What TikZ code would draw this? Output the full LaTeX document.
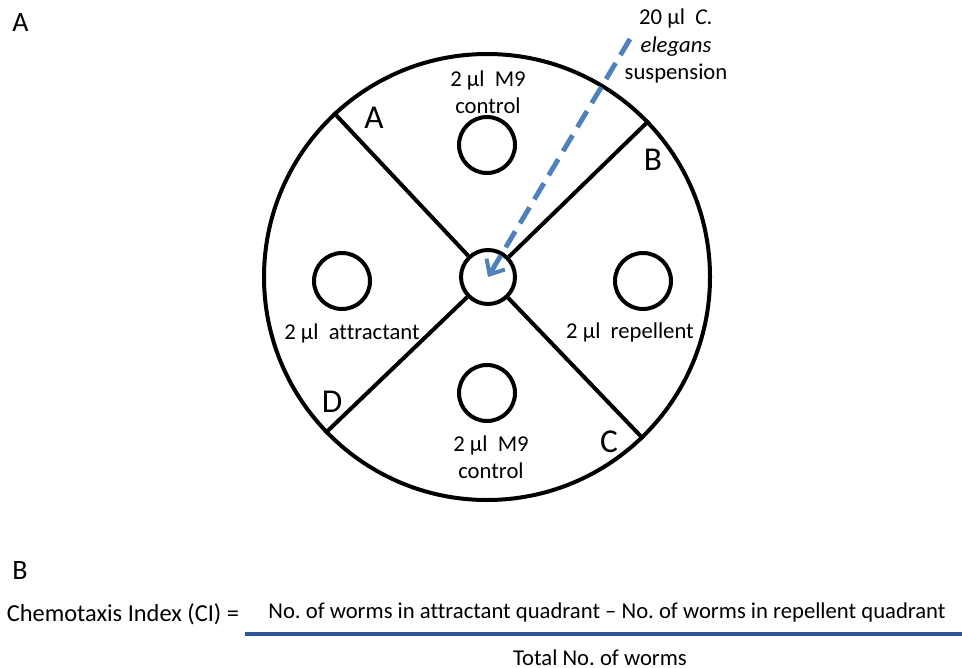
\documentclass[tikz,border=0pt]{standalone}
\usepackage{fontspec}
\setmainfont{Carlito}[Ligatures={NoCommon}]
\usetikzlibrary{arrows.meta}
\definecolor{arrowblue}{HTML}{4F81BD}
\definecolor{fracblue}{HTML}{2F5496}
\frenchspacing
\begin{document}
\begin{tikzpicture}[x=0.75pt,y=-0.75pt,
  thickline/.style={line width=3pt},
  well/.style={circle,draw,line width=3pt,minimum size=42pt,inner sep=0pt},
  lbl/.style={font=\fontsize{17}{20.5}\selectfont,align=center,inner sep=0pt},
  quad/.style={font=\fontsize{25}{28}\selectfont,inner sep=0pt},
  panel/.style={font=\fontsize{21}{24}\selectfont,inner sep=0pt},
  eqn/.style={font=\fontsize{17}{20}\selectfont,inner sep=0pt}]
\useasboundingbox (0,0) rectangle (962,667);
% plate and wells
\node[circle,draw,line width=3pt,minimum size=334.5pt,inner sep=0pt] (plate) at (487,277) {};
\node[circle,draw,line width=3pt,minimum size=40.5pt,inner sep=0pt] (ctr) at (488,277) {};
\node[well] (wtop) at (487,145) {};
\node[well] (wleft) at (342,281) {};
\node[well] (wright) at (643,281) {};
\node[well] (wbot) at (487,393) {};
% quadrant lines
\draw[thickline] (ctr.133) -- (plate.133);
\draw[thickline] (ctr.44) -- (plate.44);
\draw[thickline] (ctr.-46) -- (plate.-46);
\draw[thickline] (ctr.-136.5) -- (plate.-136.5);
% labels
\node[quad] (qa) at (374,118) {A};
\node[quad] (qb) at (653,160) {B};
\node[quad] (qc) at (609,442) {C};
\node[quad] (qd) at (332,402) {D};
\node[lbl] (ltop) at (488,92) {2 µl\ \ M9\\control};
\node[lbl] (lbot) at (491,457) {2 µl\ \ M9\\control};
\node[lbl] (lleft) at (352,333) {2 µl\ \ attractant};
\node[lbl] (lright) at (630,332) {2 µl\ \ repellent};
\node[lbl] (lsusp) at (676,46) {20 µl\ \ \textit{C.}\\\textit{elegans}\\suspension};
% arrow
\coordinate (astart) at (630,39);
\draw[arrowblue,line width=3.7pt,dash pattern=on 14pt off 7pt,
  -{Straight Barb[length=9pt,width=16pt,line width=3pt]}] (astart) -- (ctr.center);
% panel labels
\node[panel] (pa) at (20.5,23) {A};
\node[panel] (pb) at (20,571) {B};
% equation
\node[eqn,font=\fontsize{18.3}{20}\selectfont] (ci) at (123,614) {Chemotaxis Index (CI) =};
\node[eqn] (num) at (607,612) {No. of worms in attractant quadrant – No. of worms in repellent quadrant};
\node[eqn] (den) at (600,658) {Total No. of worms};
\coordinate (fl) at (245,634);
\coordinate (fr) at (962,634);
\draw[fracblue,line width=2.4pt] (fl) -- (fr);
\end{tikzpicture}
\end{document}
